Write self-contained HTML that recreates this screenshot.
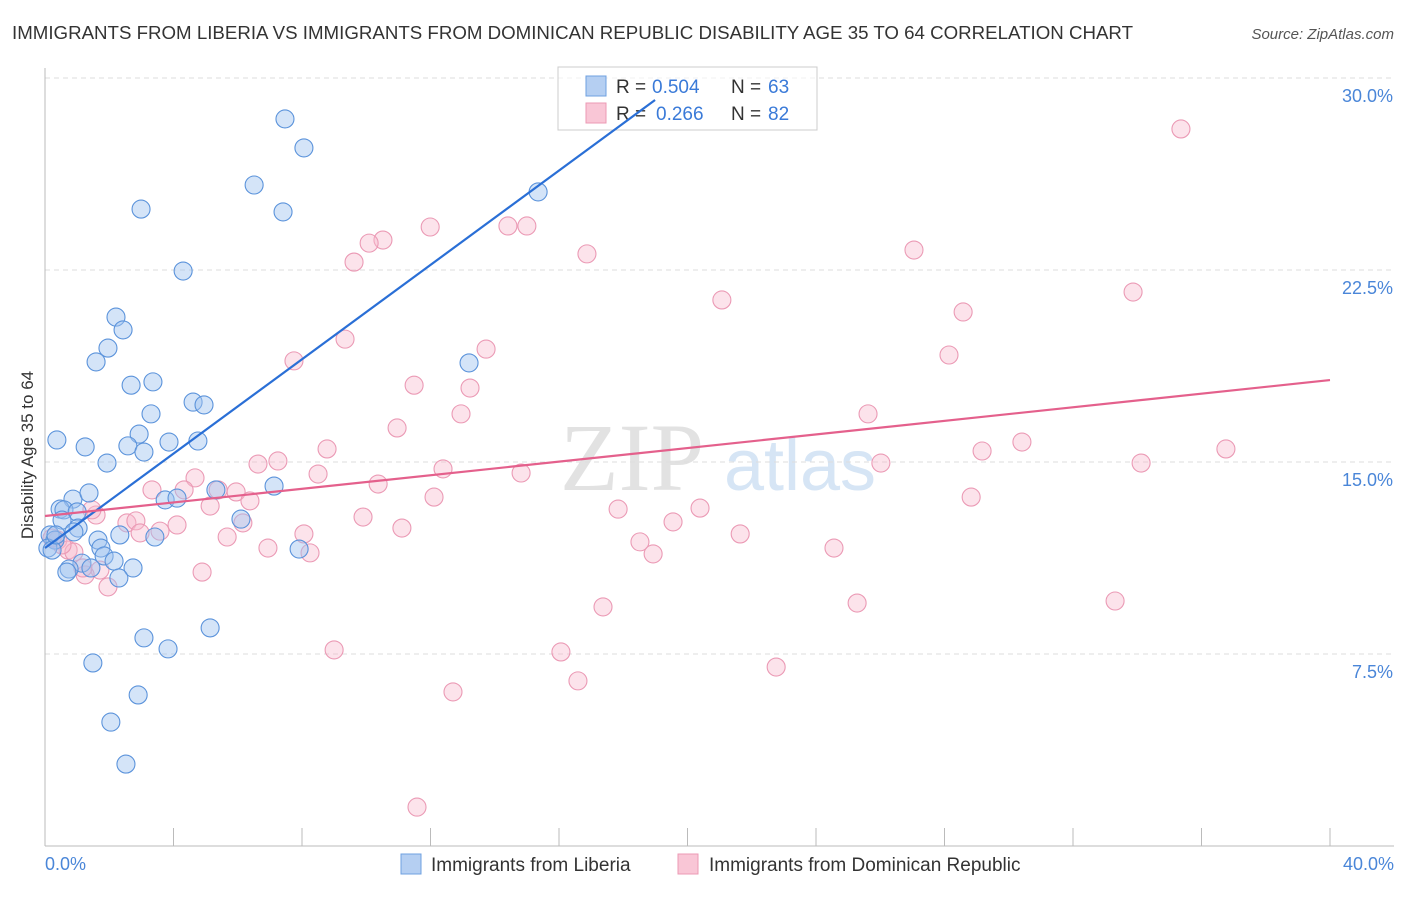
<!DOCTYPE html>
<html><head><meta charset="utf-8"><style>
body{margin:0;background:#fff;font-family:"Liberation Sans",sans-serif;}
</style></head><body>
<svg id="chart" width="1406" height="892" xmlns="http://www.w3.org/2000/svg" font-family="Liberation Sans, sans-serif">
<text x="12" y="39" font-size="18" fill="#333" textLength="1121" lengthAdjust="spacingAndGlyphs">IMMIGRANTS FROM LIBERIA VS IMMIGRANTS FROM DOMINICAN REPUBLIC DISABILITY AGE 35 TO 64 CORRELATION CHART</text>
<text x="1394" y="39" font-size="15" fill="#555" font-style="italic" text-anchor="end">Source: ZipAtlas.com</text>
<text x="632" y="490" font-size="96" fill="#e2e2e2" font-family="Liberation Serif, serif" text-anchor="middle">ZIP</text>
<text x="800" y="490" font-size="72" fill="#d6e5f5" text-anchor="middle">atlas</text>
<g id="grid"></g><g id="axes"></g>
<g>
<rect x="558" y="67" width="259" height="63" fill="#fff" fill-opacity="0.6" stroke="#ccc"/>
<rect x="586" y="76" width="20" height="20" fill="#b5cff2" stroke="#6fa0e0"/>
<rect x="586" y="103" width="20" height="20" fill="#f9c6d6" stroke="#ec9ab4"/>
<text x="616" y="93" font-size="19" fill="#333">R =</text>
<text x="652" y="93" font-size="19" fill="#3a7ad8">0.504</text>
<text x="731" y="93" font-size="19" fill="#333">N =</text>
<text x="768" y="93" font-size="19" fill="#3a7ad8">63</text>
<text x="616" y="120" font-size="19" fill="#333">R =</text>
<text x="656" y="120" font-size="19" fill="#3a7ad8">0.266</text>
<text x="731" y="120" font-size="19" fill="#333">N =</text>
<text x="768" y="120" font-size="19" fill="#3a7ad8">82</text>
</g>
<g id="pts"></g><g id="lines"></g>
<text transform="translate(33,455) rotate(-90)" font-size="17" fill="#333" text-anchor="middle">Disability Age 35 to 64</text>
<text x="45" y="870" font-size="18" fill="#4a86d8">0.0%</text>
<text x="1394" y="870" font-size="18" fill="#4a86d8" text-anchor="end">40.0%</text>
<g>
<rect x="401" y="854" width="20" height="20" fill="#b5cff2" stroke="#6fa0e0"/>
<text x="431" y="871" font-size="19" fill="#333">Immigrants from Liberia</text>
<rect x="678" y="854" width="20" height="20" fill="#f9c6d6" stroke="#ec9ab4"/>
<text x="709" y="871" font-size="19" fill="#333">Immigrants from Dominican Republic</text>
</g>
</svg>
<script>
const yTicks=[7.5,15,22.5,30];
const yTickLabels=["7.5%","15.0%","22.5%","30.0%"];
const xTicks=[0,4,8,12,16,20,24,28,32,36,40];
const blueX=[7.47,8.06,6.51,7.41,2.99,4.30,2.21,2.43,1.96,1.59,2.68,3.36,4.61,4.95,3.30,13.2,15.35,0.37,1.25,2.93,2.58,3.86,4.76,3.08,1.93,0.87,1.37,0.47,0.59,1.0,0.53,1.03,0.9,3.74,4.11,5.32,7.13,6.1,3.42,2.33,1.65,0.16,0.31,0.09,0.22,1.74,1.84,2.15,1.15,0.75,0.68,1.43,2.74,2.3,7.91,5.14,3.08,3.83,1.49,2.9,2.05,2.52,0.34];
const blueY=[28.4,27.27,25.82,24.77,24.88,22.46,20.66,20.16,19.45,18.91,18.0,18.13,17.34,17.23,16.88,18.87,25.55,15.86,15.59,16.09,15.63,15.78,15.82,15.39,14.96,13.55,13.79,13.16,13.13,13.05,12.73,12.42,12.27,13.52,13.59,13.91,14.06,12.77,12.07,12.15,11.95,12.15,11.95,11.64,11.56,11.64,11.33,11.13,11.05,10.82,10.7,10.86,10.86,10.47,11.6,8.52,8.13,7.7,7.15,5.9,4.84,3.2,12.15];
const pinkX=[35.36,27.05,33.87,28.58,28.14,21.07,16.87,11.99,14.41,15.0,10.52,10.09,9.62,9.34,7.75,13.73,13.23,11.49,12.95,10.96,25.62,30.41,29.17,36.76,34.12,26.02,14.82,12.39,8.78,8.5,10.37,7.25,6.63,4.67,3.33,4.33,5.39,5.95,5.14,6.38,12.11,17.84,20.39,19.55,9.9,11.11,6.16,4.11,3.58,2.55,2.83,2.96,1.59,5.67,8.06,6.94,8.25,18.52,18.93,21.64,24.56,28.83,1.46,0.4,0.72,0.9,1.71,1.25,1.96,4.89,17.37,25.28,33.31,9.0,16.06,22.76,16.59,12.7,11.58,0.53,0.22,1.18];
const pinkY=[28.01,23.28,21.64,20.86,19.18,21.33,23.13,24.18,24.22,24.22,23.67,23.55,22.81,19.8,18.95,19.41,17.89,18.0,16.88,16.33,16.88,15.78,15.43,15.51,14.96,14.96,14.57,14.73,15.51,14.53,14.14,15.04,14.92,14.38,13.91,13.91,13.91,13.83,13.28,13.48,13.63,13.16,13.2,12.66,12.85,12.42,12.62,12.54,12.3,12.62,12.7,12.23,12.93,12.07,12.19,11.64,11.45,11.88,11.41,12.19,11.64,13.63,13.13,11.95,11.56,11.48,10.78,10.59,10.12,10.7,9.34,9.49,9.57,7.66,7.58,6.99,6.45,6.02,1.52,11.76,12.03,10.86];
const blueLine=[[0,11.64],[18.99,29.14]];
const pinkLine=[[0,12.89],[40,18.2]];
const NS="http://www.w3.org/2000/svg";
const xs=v=>45+v/40*1285;
const ys=v=>846-v*25.6;
function mk(tag,attrs,parent){const e=document.createElementNS(NS,tag);for(const k in attrs)e.setAttribute(k,attrs[k]);parent.appendChild(e);return e;}
const grid=document.getElementById('grid'),axes=document.getElementById('axes'),pts=document.getElementById('pts'),lines=document.getElementById('lines');
yTicks.forEach((t,i)=>{
 const l=mk('line',{x1:45,x2:1394,y1:ys(t),y2:ys(t),stroke:'#ddd','stroke-dasharray':'5,4'},grid);
 
 
 const tx=mk('text',{x:1393,y:ys(t)+24,'font-size':18,fill:'#4a86d8','text-anchor':'end'},grid);
 tx.textContent=yTickLabels[i];
 
 
});
const ya=mk('line',{x1:45,x2:45,y1:68,y2:846,stroke:'#bbb'},axes);


const xa=mk('line',{x1:45,x2:1394,y1:846,y2:846,stroke:'#bbb'},axes);


xTicks.forEach(t=>{
 const l=mk('line',{x1:xs(t),x2:xs(t),y1:828,y2:846,stroke:'#bbb'},axes);
 
 
});
function dots(X,Y,fill,stroke,name){
 X.forEach((x,i)=>{
  const c=mk('circle',{cx:xs(x),cy:ys(Y[i]),r:9,fill:fill,stroke:stroke,'stroke-width':1.1},pts);
  
  
 });
}
dots(pinkX,pinkY,'rgba(248,184,204,0.4)','#eb9ab5','point-dominican');
dots(blueX,blueY,'rgba(160,196,240,0.45)','#5b93db','point-liberia');
const bl=mk('line',{x1:xs(blueLine[0][0]),y1:ys(blueLine[0][1]),x2:xs(blueLine[1][0]),y2:ys(blueLine[1][1]),stroke:'#2a6fd6','stroke-width':2.2},lines);


const pl=mk('line',{x1:xs(pinkLine[0][0]),y1:ys(pinkLine[0][1]),x2:xs(pinkLine[1][0]),y2:ys(pinkLine[1][1]),stroke:'#e4608c','stroke-width':2.2},lines);


</script>
</body></html>
